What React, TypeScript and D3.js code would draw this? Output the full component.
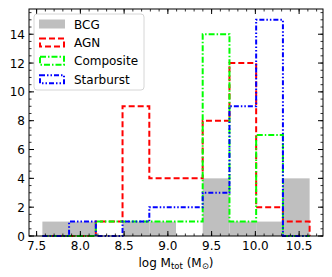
import React from "react";
import * as d3 from "d3";

const binEdges = [7.566, 7.871, 8.177, 8.482, 8.788, 9.093, 9.398, 9.704, 10.009, 10.315, 10.62];
const bcgCounts = [1, 1, 0, 1, 1, 0, 4, 1, 1, 4];
const agnCounts = [0, 0, 1, 9, 4, 4, 8, 12, 2, 1];
const compositeCounts = [0, 0, 1, 1, 1, 1, 14, 1, 7, 0];
const starburstCounts = [0, 1, 0, 1, 2, 2, 3, 9, 15, 0];
const xTicks = [7.5, 8.0, 8.5, 9.0, 9.5, 10.0, 10.5];
const yTicks = [0, 2, 4, 6, 8, 10, 12, 14];

const W = 332, H = 277;
const L = 29, R = 323, T = 9, B = 236;
const FONT = "DejaVu Sans, sans-serif";

export default function App() {
  const x = d3.scaleLinear().domain([7.413, 10.773]).range([L, R]);
  const y = d3.scaleLinear().domain([0, 15.75]).range([B, T]);

  const stepPath = (counts: number[]) => {
    const pts: [number, number][] = [[binEdges[0], 0]];
    counts.forEach((c, i) => {
      pts.push([binEdges[i], c]);
      pts.push([binEdges[i + 1], c]);
    });
    pts.push([binEdges[binEdges.length - 1], 0]);
    return d3.line<[number, number]>().x((d) => x(d[0])).y((d) => y(d[1]))(pts) || "";
  };

  const steps = [
    { counts: agnCounts, color: "#ff0000", dash: "6,3", label: "AGN" },
    { counts: compositeCounts, color: "#00ff00", dash: "6,2,1.5,2", label: "Composite" },
    { counts: starburstCounts, color: "#0000ff", dash: "5,2,1.5,2,1.5,2", label: "Starburst" },
  ];

  const xMinor = d3.range(7.5, 10.75, 0.1).filter((v) => x(v) >= L && x(v) <= R);
  const yMinor = d3.range(0, 15.75, 0.5);

  const legendRows = [{ label: "BCG" }, ...steps];

  return (
    <svg width={W} height={H} style={{ position: "absolute", left: 0, top: 0 }}>
      <rect x={0} y={0} width={W} height={H} fill="white" />
      {bcgCounts.map((c, i) =>
        c > 0 ? (
          <rect
            key={"b" + i}
            x={x(binEdges[i])}
            y={y(c)}
            width={x(binEdges[i + 1]) - x(binEdges[i])}
            height={y(0) - y(c)}
            fill="#bfbfbf"
          />
        ) : null
      )}
      {steps.map((s) => (
        <path key={s.label} d={stepPath(s.counts)} fill="none" stroke={s.color} strokeWidth={2} strokeDasharray={s.dash} />
      ))}
      {/* frame */}
      <rect x={L} y={T} width={R - L} height={B - T} fill="none" stroke="black" strokeWidth={1} />
      {/* x ticks */}
      {xTicks.map((t) => (
        <g key={"xt" + t}>
          <line x1={x(t)} x2={x(t)} y1={B} y2={B - 5} stroke="black" />
          <line x1={x(t)} x2={x(t)} y1={T} y2={T + 5} stroke="black" />
          <text x={x(t)} y={250} textAnchor="middle" fontFamily={FONT} fontSize={12}>
            {t.toFixed(1)}
          </text>
        </g>
      ))}
      {xMinor.map((t, i) => (
        <g key={"xm" + i}>
          <line x1={x(t)} x2={x(t)} y1={B} y2={B - 2.5} stroke="black" strokeWidth={0.8} />
          <line x1={x(t)} x2={x(t)} y1={T} y2={T + 2.5} stroke="black" strokeWidth={0.8} />
        </g>
      ))}
      {yTicks.map((t) => (
        <g key={"yt" + t}>
          <line x1={L} x2={L + 5} y1={y(t)} y2={y(t)} stroke="black" />
          <line x1={R} x2={R - 5} y1={y(t)} y2={y(t)} stroke="black" />
          <text x={25} y={y(t) + 4.5} textAnchor="end" fontFamily={FONT} fontSize={12}>
            {t}
          </text>
        </g>
      ))}
      {yMinor.map((t, i) => (
        <g key={"ym" + i}>
          <line x1={L} x2={L + 2.5} y1={y(t)} y2={y(t)} stroke="black" strokeWidth={0.8} />
          <line x1={R} x2={R - 2.5} y1={y(t)} y2={y(t)} stroke="black" strokeWidth={0.8} />
        </g>
      ))}
      {/* x label */}
      <text x={176} y={267} textAnchor="middle" fontFamily={FONT} fontSize={12}>
        log M<tspan fontSize={8.5} dy={2}>tot</tspan>
        <tspan dy={-2}> (M</tspan>
        <tspan fontSize={8.5} dy={2}>⊙</tspan>
        <tspan dy={-2}>)</tspan>
      </text>
      {/* legend */}
      <rect x={34} y={14} width={110} height={76} rx={3} fill="white" fillOpacity={0.8} stroke="#cccccc" strokeWidth={0.8} />
      {legendRows.map((r: any, i) => {
        const cy = 24 + i * 18.4;
        return (
          <g key={"lg" + i}>
            {i === 0 ? (
              <rect x={39} y={cy - 4.5} width={26} height={9} fill="#bfbfbf" />
            ) : (
              <rect x={40} y={cy - 4} width={24} height={8} fill="none" stroke={r.color} strokeWidth={2} strokeDasharray={r.dash} />
            )}
            <text x={74} y={cy + 4.5} fontFamily={FONT} fontSize={12}>
              {r.label}
            </text>
          </g>
        );
      })}
    </svg>
  );
}
